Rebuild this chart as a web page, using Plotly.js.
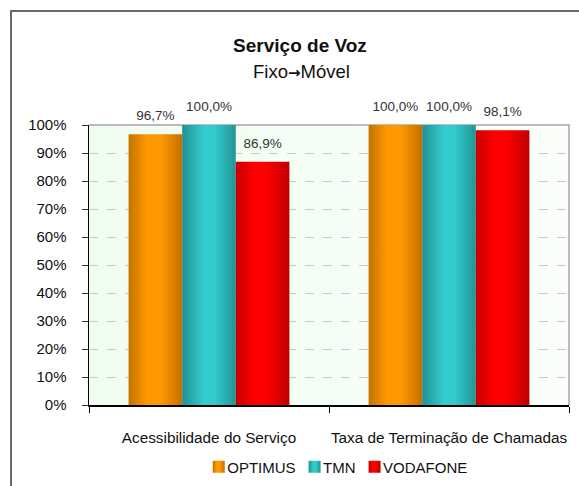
<!DOCTYPE html>
<html>
<head>
<meta charset="utf-8">
<script src="https://cdn.plot.ly/plotly-3.0.1.min.js"></script>
<style>
  html, body { margin: 0; padding: 0; background: #fff; }
  #wrap { position: relative; width: 579px; height: 486px; overflow: hidden; }
  #chart { position: absolute; left: 0; top: 0; width: 579px; height: 486px; }
  #frame { position: absolute; left: 10px; top: 10px; width: 600px; height: 500px;
           border-left: 2px solid #6a6a6a; border-top: 2px solid #6a6a6a; pointer-events: none; }
</style>
</head>
<body>
<div id="wrap"><div id="chart"></div><div id="frame"></div></div>
<script>
const categories = ['Acessibilidade do Serviço', 'Taxa de Terminação de Chamadas'];
const seriesNames = ['OPTIMUS', 'TMN', 'VODAFONE'];
const optimus = [96.7, 100.0];
const tmn = [100.0, 100.0];
const vodafone = [86.9, 98.1];
const yTicks = [0, 10, 20, 30, 40, 50, 60, 70, 80, 90, 100];

const FONT = 'Liberation Sans, Arial, sans-serif';
const baseColors = ['#F39500', '#2EBFBF', '#EE0000'];
const gradStops = [
  [['0%', '#C27400'], ['35%', '#FF9900'], ['60%', '#FF9900'], ['100%', '#C27000']],
  [['0%', '#1F9090'], ['40%', '#33CCCC'], ['60%', '#33CCCC'], ['100%', '#239494']],
  [['0%', '#C80000'], ['35%', '#FF0000'], ['55%', '#FF0000'], ['100%', '#BE0000']]
];

const values = [optimus, tmn, vodafone];
const traces = values.map((v, i) => ({
  type: 'bar',
  name: seriesNames[i],
  x: categories,
  y: v,
  marker: { color: baseColors[i], line: { width: 0 } },
  texttemplate: '%{y:.1f}%',
  textposition: 'outside',
  textfont: { family: FONT, size: 13.5, color: '#333' },
  cliponaxis: false,
  hoverinfo: 'skip'
}));

const layout = {
  width: 579, height: 486,
  margin: { l: 89, r: 10, t: 125, b: 81, autoexpand: false },
  paper_bgcolor: '#ffffff',
  plot_bgcolor: '#F4FDF4',
  separators: ',.',
  font: { family: FONT, color: '#222' },
  barmode: 'group',
  bargap: 0.33,
  bargroupgap: 0,
  showlegend: true,
  title: {
    text: '<b>Serviço de Voz</b>',
    font: { family: FONT, size: 19, color: '#111' },
    xref: 'container', yref: 'container',
    x: 300 / 579, xanchor: 'center',
    y: 1 - 45 / 486, yanchor: 'middle'
  },
  annotations: [{
    text: 'Fixo<span style="font-family:DejaVu Sans;font-weight:bold;font-size:15px">→</span>Móvel', showarrow: false,
    xref: 'paper', yref: 'paper',
    x: (301 - 89) / 480, xanchor: 'center',
    y: 1 + (125 - 71.5) / 280, yanchor: 'middle',
    font: { family: FONT, size: 18.5, color: '#111' }
  }],
  legend: {
    orientation: 'h', x: 0.5, xanchor: 'center',
    y: -(467 - 405) / 280, yanchor: 'middle',
    font: { family: FONT, size: 15, color: '#111' },
    itemwidth: 30, tracegroupgap: 0, bgcolor: 'rgba(0,0,0,0)'
  },
  xaxis: {
    type: 'category', automargin: false,
    showline: true, linecolor: '#000', linewidth: 1.5,
    ticks: 'outside', tickson: 'boundaries', ticklen: 6, tickcolor: '#000',
    tickangle: 0,
    ticklabelstandoff: 18,
    tickfont: { family: FONT, size: 15.3, color: '#111' },
    showgrid: false, zeroline: false, fixedrange: true
  },
  yaxis: {
    range: [0, 100], automargin: false,
    tickvals: yTicks,
    ticktext: yTicks.map(t => t + '%'),
    showline: true, linecolor: '#000', linewidth: 1.5,
    ticks: 'outside', ticklen: 6, tickcolor: '#333',
    ticklabelstandoff: 12,
    tickfont: { family: FONT, size: 15, color: '#111' },
    showgrid: true, gridcolor: '#c8c8c8', griddash: 'dash', gridwidth: 1,
    zeroline: false, fixedrange: true
  },
  shapes: [{
    type: 'path', xref: 'paper', yref: 'paper',
    path: 'M0,1 L1,1 L1,0', line: { color: '#a6a6a6', width: 1.5 }, layer: 'below'
  }]
};

function applyGradients(gd) {
  const svg = gd.querySelector('svg.main-svg');
  const NS = 'http://www.w3.org/2000/svg';
  const defs = document.createElementNS(NS, 'defs');
  function mkGrad(id, stops) {
    const lg = document.createElementNS(NS, 'linearGradient');
    lg.setAttribute('id', id);
    lg.setAttribute('x1', '0'); lg.setAttribute('x2', '1');
    lg.setAttribute('y1', '0'); lg.setAttribute('y2', '0');
    stops.forEach(s => {
      const st = document.createElementNS(NS, 'stop');
      st.setAttribute('offset', s[0]);
      st.setAttribute('stop-color', s[1]);
      lg.appendChild(st);
    });
    defs.appendChild(lg);
  }
  gradStops.forEach((stops, i) => mkGrad('bargrad' + i, stops));
  mkGrad('plotbggrad', [['0%', '#EFFDEF'], ['100%', '#FBFFFB']]);
  svg.insertBefore(defs, svg.firstChild);

  gd.querySelectorAll('.barlayer .trace').forEach((tr, i) => {
    tr.querySelectorAll('.point path').forEach(p => { p.style.fill = 'url(#bargrad' + i + ')'; });
    // lift the value labels a little higher above the bars
    tr.querySelectorAll('text.bartext').forEach(t => {
      const old = t.getAttribute('transform') || '';
      t.setAttribute('transform', 'translate(0,-8) ' + old);
    });
  });
  gd.querySelectorAll('.bglayer rect.bg').forEach(r => { r.style.fill = 'url(#plotbggrad)'; });

  // compact legend layout (symbol close to its text)
  const legend = gd.querySelector('.legend');
  if (legend) {
    const items = Array.from(legend.querySelectorAll('.traces'));
    const bgRect = legend.querySelector('rect.bg');
    const boxW = bgRect ? parseFloat(bgRect.getAttribute('width')) : 0;
    const info = items.map(tr => {
      const txt = tr.querySelector('.legendtext');
      return { tr, txt, w: txt.getBBox().width };
    });
    const symHalf = 6, textGap = 8.5, itemGap = 7, centerShift = 11;
    let total = 0;
    info.forEach((it, k) => { total += symHalf + textGap + it.w + (k < info.length - 1 ? itemGap + symHalf : 0); });
    let cx = boxW / 2 - total / 2 + symHalf + centerShift;
    info.forEach((it, k) => {
      it.tr.querySelectorAll('.legendpoints path').forEach(p => { p.style.fill = 'url(#bargrad' + k + ')'; });
      const m = /translate\(([-\d.]+)[ ,]+([-\d.]+)\)/.exec(it.tr.getAttribute('transform') || '');
      const ty = m ? parseFloat(m[2]) : 0;
      it.tr.setAttribute('transform', 'translate(0,' + ty + ')');
      const pts = it.tr.querySelector('.legendpoints');
      const pb = pts.getBBox();
      const pcx = pb.x + pb.width / 2;
      pts.setAttribute('transform', 'translate(' + (cx - pcx) + ',0)');
      const tb = it.txt.getBBox();
      it.txt.setAttribute('transform', 'translate(' + (cx + textGap - tb.x) + ',0)');
      cx += textGap + it.w + itemGap + 2 * symHalf;
    });
  }
}

const gd = document.getElementById('chart');
Plotly.newPlot(gd, traces, layout, { staticPlot: true, displayModeBar: false })
  .then(() => applyGradients(gd));
</script>
</body>
</html>
